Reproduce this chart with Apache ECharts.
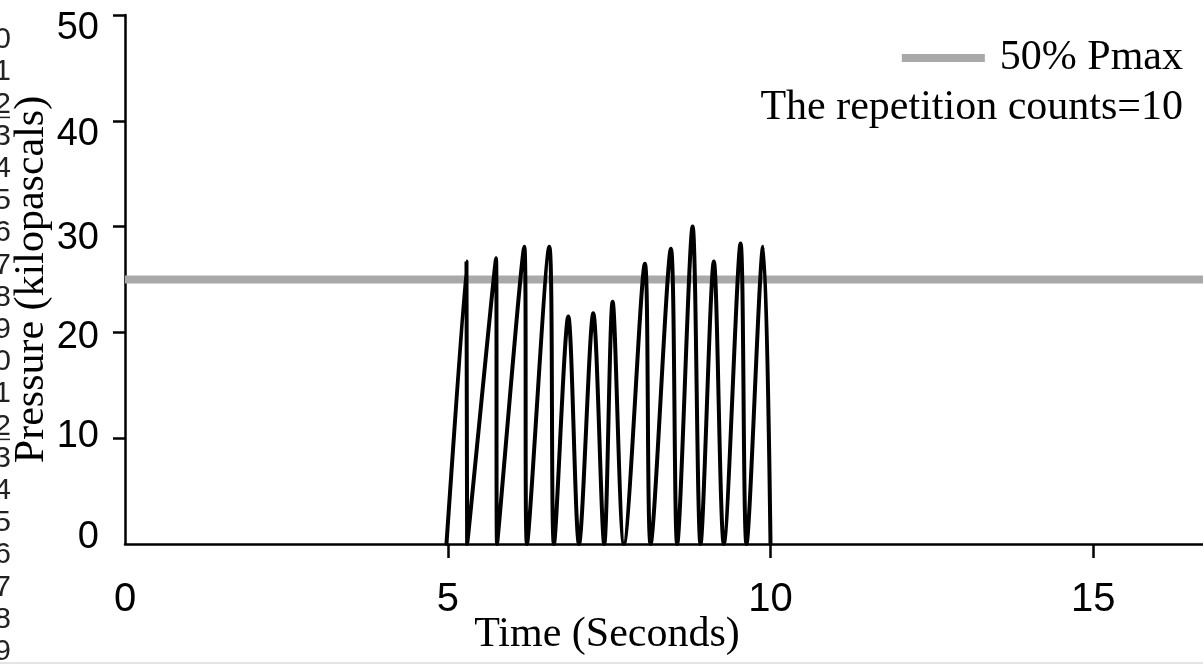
<!DOCTYPE html>
<html>
<head>
<meta charset="utf-8">
<script src="https://cdn.jsdelivr.net/npm/echarts@6/dist/echarts.min.js"></script>
<style>
html,body{margin:0;padding:0;background:#fff;}
#chart{width:1203px;height:665px;}
</style>
</head>
<body>
<div id="chart"></div>
<script>
// ---- data ----
const timeSeconds = [4.98, 5.29, 5.30, 5.748, 5.763, 6.186, 6.227, 6.573, 6.645, 6.867, 7.033, 7.254, 7.424, 7.554, 7.729, 8.054, 8.142, 8.457, 8.554, 8.793, 8.916, 9.122, 9.277, 9.536, 9.628, 9.885, 10.0];
const pressureKPa = [0, 26.7, 0, 27.0, 0, 28.1, 0, 28.1, 0, 21.5, 0, 21.8, 0, 22.9, 0, 26.5, 0, 27.9, 0, 30.0, 0, 26.7, 0, 28.4, 0, 28.1, 0];
const halfPmax = 25;
const xTicks = [5, 10, 15];
const xLabels = ['0', '5', '10', '15'];
const yTicks = [10, 20, 30, 40, 50];
const yLabels = ['0', '10', '20', '30', '40', '50'];
const xMax = 16.7;
const legendLabel = '50% Pmax';
const noteText = 'The repetition counts=10';
const xTitle = 'Time (Seconds)';
const yTitle = 'Pressure (kilopascals)';
const lineNumbers = ['0','1','2','3','4','5','6','7','8','9','0','1','2','3','4','5','6','7','8','9'];

const serif = '"Liberation Serif","Times New Roman",serif';
const sans = '"Liberation Sans",Arial,sans-serif';

const curve = timeSeconds.map((t, i) => [t, pressureKPa[i]]);

// label vertical nudges (px) seen in the reference's y tick labels
const yLabelShift = {'0': -6, '10': -2, '20': 5, '30': 12, '40': 14, '50': 14};
const yRich = {};
Object.keys(yLabelShift).forEach(k => {
  const s = yLabelShift[k];
  yRich['l' + k] = {fontFamily: sans, fontSize: 38, color: '#000', padding: s > 0 ? [2 * s, 0, 0, 0] : [0, 0, -2 * s, 0]};
});

const chart = echarts.init(document.getElementById('chart'), null, {renderer: 'canvas'});

const lineNumGraphics = [];
lineNumbers.forEach((n, i) => {
  const y = 40 + i * 32.2;
  lineNumGraphics.push({
    type: 'text', x: 11, y: y,
    style: {text: n, fill: '#222', font: '30px ' + sans, textAlign: 'right', textVerticalAlign: 'middle'}
  });
});
// underlines under the "2" line numbers
[2, 12].forEach(i => {
  const y = 40 + i * 32.2 + 13;
  lineNumGraphics.push({type: 'line', shape: {x1: 0, y1: y, x2: 10, y2: y}, style: {stroke: '#222', lineWidth: 1.5}});
});

chart.setOption({
  animation: false,
  backgroundColor: '#ffffff',
  grid: {left: 125, right: 0, top: 15, bottom: 121, containLabel: false, outerBoundsMode: 'none'},
  legend: {
    data: [{name: legendLabel, icon: 'rect'}],
    right: 20, top: 37, padding: 0,
    itemWidth: 83, itemHeight: 8,
    textStyle: {fontFamily: serif, fontSize: 42, color: '#000', padding: [0, 0, 0, 10]}
  },
  xAxis: {
    type: 'value', min: 0, max: xMax, interval: 5,
    name: xTitle, nameLocation: 'middle', nameGap: 70, nameMoveOverlap: false,
    nameTextStyle: {fontFamily: serif, fontSize: 42, color: '#000', padding: [0, 114, 0, 0]},
    axisLine: {show: true, lineStyle: {color: '#000', width: 2.5}},
    axisTick: {show: true, inside: false, length: 14, lineStyle: {color: '#000', width: 2.5}, customValues: xTicks},
    axisLabel: {show: true, margin: 36, fontFamily: sans, fontSize: 40, color: '#000', customValues: xLabels.map(Number),
      formatter: v => xLabels[xLabels.indexOf(String(v))]},
    splitLine: {show: false}
  },
  yAxis: {
    type: 'value', min: 0, max: 50, interval: 10,
    name: yTitle, nameLocation: 'middle', nameGap: 72, nameMoveOverlap: false,
    nameTextStyle: {fontFamily: serif, fontSize: 42, color: '#000'},
    axisLine: {show: true, lineStyle: {color: '#000', width: 2.5}},
    axisTick: {show: true, inside: false, length: 12, lineStyle: {color: '#000', width: 2.5}, customValues: yTicks},
    axisLabel: {show: true, margin: 26, fontFamily: sans, fontSize: 38, color: '#000', customValues: yLabels.map(Number),
      formatter: v => { const s = yLabels[yLabels.indexOf(String(v))]; return '{l' + s + '|' + s + '}'; },
      rich: yRich},
    splitLine: {show: false}
  },
  graphic: lineNumGraphics.concat([
    {type: 'text', x: 1183, y: 108, style: {text: noteText, fill: '#000', font: '42px ' + serif, textAlign: 'right', textVerticalAlign: 'middle'}},
    {type: 'line', shape: {x1: 0, y1: 663, x2: 1203, y2: 663}, style: {stroke: '#e4e4e4', lineWidth: 2}, z: -1}
  ]),
  series: [
    {
      name: legendLabel, type: 'line', data: [[0, halfPmax], [xMax, halfPmax]],
      symbol: 'none', lineStyle: {color: '#a9a9a9', width: 8}, itemStyle: {color: '#a9a9a9'}, z: 1
    },
    {
      name: 'Pressure', type: 'line', data: curve, symbol: 'none',
      smooth: 0.3,
      lineStyle: {color: '#000', width: 4, join: 'round', cap: 'round'}, z: 2
    }
  ]
});
</script>
</body>
</html>
